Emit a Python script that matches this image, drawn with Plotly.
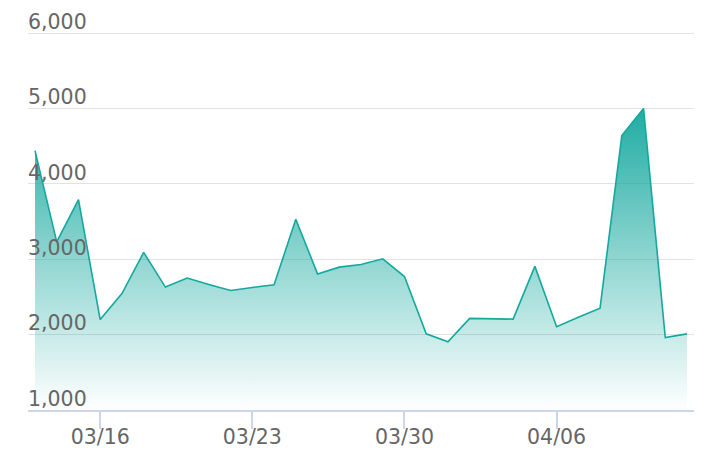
import plotly.graph_objects as go

dates = [
    "2020-03-13", "2020-03-14", "2020-03-15", "2020-03-16", "2020-03-17",
    "2020-03-18", "2020-03-19", "2020-03-20", "2020-03-21", "2020-03-22",
    "2020-03-23", "2020-03-24", "2020-03-25", "2020-03-26", "2020-03-27",
    "2020-03-28", "2020-03-29", "2020-03-30", "2020-03-31", "2020-04-01",
    "2020-04-02", "2020-04-03", "2020-04-04", "2020-04-05", "2020-04-06",
    "2020-04-07", "2020-04-08", "2020-04-09", "2020-04-10", "2020-04-11",
    "2020-04-12",
]
values = [
    4440, 3230, 3790, 2200, 2545,
    3090, 2630, 2750, 2665, 2585,
    2625, 2660, 3530, 2805, 2895,
    2930, 3005, 2770, 2010, 1905,
    2215, 2210, 2205, 2905, 2105,
    2230, 2350, 4640, 5000, 1960,
    2010,
]

TEAL = "#14a89e"
FONT = "DejaVu Sans"
LABEL = "#666666"

fig = go.Figure()

fig.add_trace(
    go.Scatter(
        x=dates, y=values,
        mode="lines",
        line=dict(color=TEAL, width=1.6),
        fill="tozeroy",
        fillgradient=dict(
            type="vertical",
            start=1000, stop=5000,
            colorscale=[[0, "rgba(20,168,158,0)"], [1, "rgba(20,168,158,0.95)"]],
        ),
        showlegend=False,
    )
)

# page body has an 8px margin, so the margins are shifted to compensate
fig.update_layout(
    width=710, height=474,
    margin=dict(l=20, r=24, t=22, b=72),
    paper_bgcolor="white",
    plot_bgcolor="white",
    font=dict(family=FONT, size=20.5, color=LABEL),
)

fig.update_xaxes(
    type="date",
    range=["2020-03-12 16:16", "2020-04-12 07:44"],
    tick0="2020-03-16", dtick=7 * 86400000,
    tickformat="%m/%d",
    tickfont=dict(family=FONT, size=20.5, color=LABEL),
    ticklabelstandoff=-9,
    showgrid=False,
    showline=True, linecolor="#ccd6eb", linewidth=1.5,
    ticks="outside", ticklen=17, tickwidth=1.8, tickcolor="#ccd6eb",
    zeroline=False,
    automargin=False,
)

fig.update_yaxes(
    range=[1000, 6040],
    tickvals=[1000, 2000, 3000, 4000, 5000, 6000],
    tickformat=",",
    tickfont=dict(family=FONT, size=20.5, color=LABEL),
    ticklabelposition="inside top",
    ticklabeloverflow="allow",
    ticklabelshift=3,
    ticklabelstandoff=-3,
    showgrid=True, gridcolor="#e2e2e2", gridwidth=1.2,
    zeroline=False,
    automargin=False,
)

fig.write_html("out.html")
